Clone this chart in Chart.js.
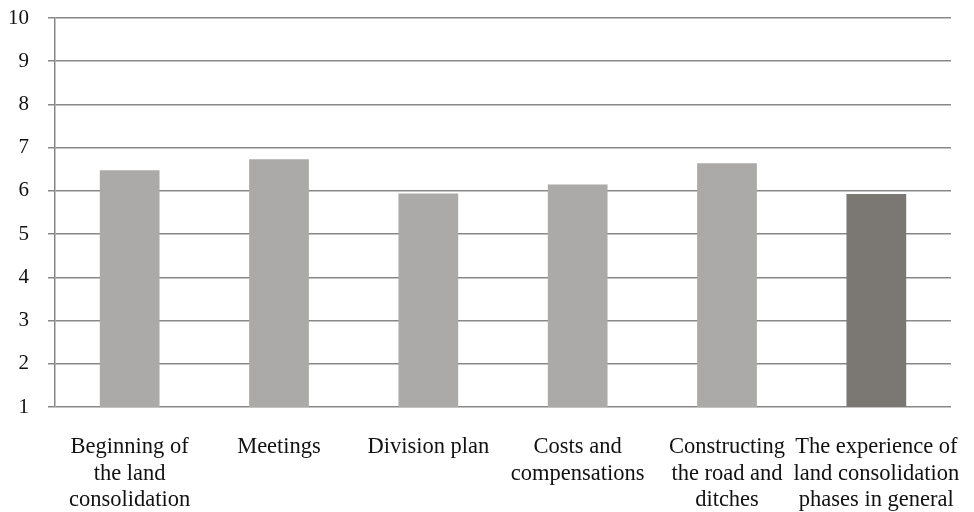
<!DOCTYPE html>
<html>
<head>
<meta charset="utf-8">
<script src="https://cdn.jsdelivr.net/npm/chart.js@4"></script>
<style>
  html, body { margin: 0; padding: 0; background: #fff; }
  #wrap { width: 974px; height: 512px; }
</style>
</head>
<body>
<div id="wrap"><canvas id="chart" width="974" height="512"></canvas></div>
<script>
// phases of the land consolidation process and their mean ratings
const phases = [
    ['Beginning of', 'the land', 'consolidation'],
    'Meetings',
    'Division plan',
    ['Costs and', 'compensations'],
    ['Constructing', 'the road and', 'ditches'],
    ['The experience of', 'land consolidation', 'phases in general']
];
const ratings = [6.48, 6.73, 5.94, 6.15, 6.64, 5.93];
const barColors = ['#abaaa8', '#abaaa8', '#abaaa8', '#abaaa8', '#abaaa8', '#7b7773'];
const yMin = 1;
const yMax = 10;

const gridGray = '#878787';
const serif = "'Liberation Serif', 'Times New Roman', serif";

// fixed axis sizes, no extra room for overflowing tick labels
function clearPadding(scale) {
    scale.paddingTop = 0;
    scale.paddingBottom = 0;
    scale.paddingLeft = 0;
    scale.paddingRight = 0;
}

new Chart(document.getElementById('chart'), {
    type: 'bar',
    data: {
        labels: phases,
        datasets: [{
            data: ratings,
            backgroundColor: barColors,
            borderWidth: 0,
            barPercentage: 1,
            categoryPercentage: 0.4
        }]
    },
    options: {
        responsive: false,
        animation: false,
        layout: { padding: { top: 18, right: 23, bottom: 0, left: 0 } },
        plugins: {
            legend: { display: false },
            tooltip: { enabled: false }
        },
        scales: {
            x: {
                grid: { display: false },
                border: { display: false },
                ticks: {
                    color: '#111',
                    padding: 19,
                    maxRotation: 0,
                    autoSkip: false,
                    font: { family: serif, size: 22.5, lineHeight: 1.18 }
                },
                afterFit: scale => {
                    scale.height = 105;
                    clearPadding(scale);
                }
            },
            y: {
                min: yMin,
                max: yMax,
                grid: {
                    color: gridGray,
                    lineWidth: 1.5,
                    tickLength: 7,
                    tickColor: gridGray
                },
                border: { display: true, color: gridGray, width: 1.5 },
                ticks: {
                    stepSize: 1,
                    color: '#111',
                    padding: 19,
                    font: { family: serif, size: 21 }
                },
                afterFit: scale => {
                    scale.width = 55;
                    clearPadding(scale);
                }
            }
        }
    }
});
</script>
</body>
</html>
